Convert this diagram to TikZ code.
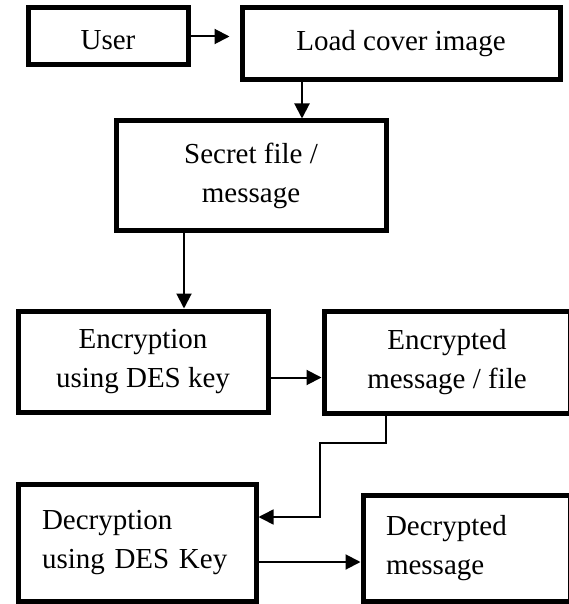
\documentclass[tikz,border=0pt]{standalone}
\usepackage{fontspec}
\setmainfont{Liberation Serif}
\usetikzlibrary{arrows.meta}

\begin{document}
\begin{tikzpicture}[x=1pt,y=-1pt,
  box/.style={draw,line width=5pt,inner sep=0pt,align=center,
    font=\fontsize{29}{39}\selectfont},
  flow/.style={-{Triangle[length=15pt,width=15pt]},line width=2pt}]
\clip (0,0) rectangle (569,604);
% boxes
\node[box,minimum width=160,minimum height=57,text height=26pt] (user) at (108,36.5) {User};
\node[box,minimum width=318,minimum height=72] (load) at (401,44) {Load cover image};
\node[box,minimum width=270,minimum height=109] (secret) at (251,175.5) {Secret file /\\message};
\node[box,minimum width=250,minimum height=101] (enc) at (143,361.5) {Encryption\\using DES key};
\node[box,minimum width=246,minimum height=102] (encd) at (447,362) {Encrypted\\message / file};
\node[box,minimum width=238,minimum height=117,text width=190,align=left] (dec) at (137,542.5) {Decryption\\using DES Key};
\node[box,minimum width=207,minimum height=106,text width=161,align=left] (decd) at (466.5,548) {Decrypted\\message};
\coordinate (bend) at (320,443);
% arrows
\draw[flow,shorten >=10pt] (user.east) -- (user.east -| load.west);
\draw[flow] ([xshift=-99pt]load.south) -- ([xshift=-99pt]load.south |- secret.north);
\draw[flow] ([xshift=-67pt]secret.south) -- ([xshift=-67pt]secret.south |- enc.north);
\draw[flow] ([yshift=-16pt]enc.east) -- ([yshift=-16pt]enc.east -| encd.west);
\draw[flow,line width=1.5pt] ([xshift=-61pt]encd.south) |- (bend) |- ([yshift=25.5pt]dec.east);
\draw[flow] ([yshift=-19.5pt]dec.east) -- ([yshift=-19.5pt]dec.east -| decd.west);
\end{tikzpicture}
\end{document}
